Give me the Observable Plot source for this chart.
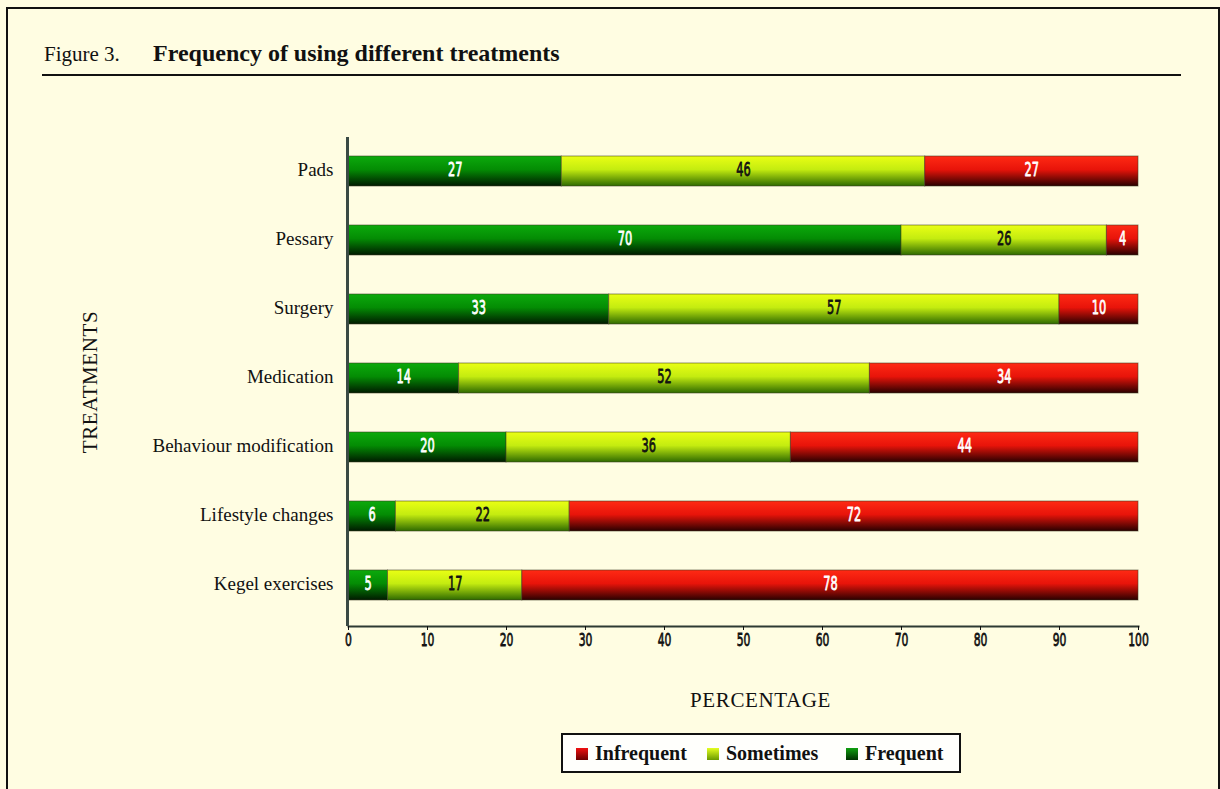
<!DOCTYPE html>
<html>
<head>
<meta charset="utf-8">
<script src="https://cdn.jsdelivr.net/npm/d3@7"></script>
<script src="https://cdn.jsdelivr.net/npm/@observablehq/plot@0.6"></script>
<style>
  html, body { margin: 0; padding: 0; background: #fffde2; }
  #page { position: relative; width: 1220px; height: 789px; overflow: hidden; background: #fffde2; }
  #border { position: absolute; left: 6px; top: 7px; width: 1210px; height: 800px; border: 2px solid #111; }
  #title { position: absolute; left: 44px; top: 40px; font-family: "Liberation Serif", "Times New Roman", serif; font-size: 24px; color: #111; white-space: nowrap; }
  #title .fig { font-size: 21px; display: inline-block; width: 109px; }
  #title b { font-weight: bold; }
  #rule { position: absolute; left: 42px; top: 74px; width: 1139px; height: 2px; background: #111; }
  #chart { position: absolute; left: 0; top: 0; }
  #legend { position: absolute; left: 561px; top: 733px; width: 396px; height: 36px; border: 2px solid #111; background: #fffffc;
            font-family: "Liberation Serif", "Times New Roman", serif; font-weight: bold; font-size: 20px; color: #111; }
  #legend .item { position: absolute; top: 7px; white-space: nowrap; }
  #legend .sw { display: inline-block; width: 12px; height: 12px; margin-right: 7px; vertical-align: 0px; }
</style>
</head>
<body>
<div id="page">
  <div id="border"></div>
  <div id="title"><span class="fig">Figure 3.</span><b>Frequency of using different treatments</b></div>
  <div id="rule"></div>
  <div id="chart"></div>
  <div id="legend"></div>
</div>
<script>
// ---- data ----
const treatments = ["Pads", "Pessary", "Surgery", "Medication", "Behaviour modification", "Lifestyle changes", "Kegel exercises"];
const seriesNames = ["Frequent", "Sometimes", "Infrequent"];
const frequent   = [27, 70, 33, 14, 20, 6, 5];
const sometimes  = [46, 26, 57, 52, 36, 22, 17];
const infrequent = [27, 4, 10, 34, 44, 72, 78];
const xTicks = [0, 10, 20, 30, 40, 50, 60, 70, 80, 90, 100];
const legendOrder = ["Infrequent", "Sometimes", "Frequent"];

// ---- build table ----
const seriesValues = {Frequent: frequent, Sometimes: sometimes, Infrequent: infrequent};
const rows = [];
treatments.forEach((t, i) => {
  let acc = 0;
  seriesNames.forEach(s => {
    const v = seriesValues[s][i];
    rows.push({treatment: t, series: s, value: v, x1: acc, x2: acc + v, mid: acc + v / 2});
    acc += v;
  });
});

const gradId = {Frequent: "gFreq", Sometimes: "gSome", Infrequent: "gInf"};
const textColor = {Frequent: "#ffffff", Sometimes: "#111111", Infrequent: "#ffffff"};
const numFont = "'DejaVu Sans', sans-serif";

const W = 1220, H = 789;
const chart = Plot.plot({
  width: W,
  height: H,
  marginLeft: 348,
  marginRight: 82,
  marginTop: 137,
  marginBottom: 163,
  style: {background: "transparent", overflow: "visible"},
  x: {domain: [0, 100]},
  y: {domain: treatments, type: "band", paddingInner: 0.565, paddingOuter: 0.2825, insetBottom: 6},
  marks: [
    Plot.barX(rows, {
      x1: "x1", x2: "x2", y: "treatment",
      fill: d => `url(#${gradId[d.series]})`,
      stroke: "#3d3d22", strokeOpacity: 0.55, strokeWidth: 1
    }),
    Plot.text(rows, {
      x: "mid", y: "treatment", text: d => String(d.value),
      fill: d => textColor[d.series],
      stroke: d => textColor[d.series], strokeWidth: 0.8,
      fontFamily: numFont, fontSize: 19, dy: -2
    }),
    Plot.frame({anchor: "bottom", stroke: "#2e3a33", strokeWidth: 2}),
    Plot.ruleX([0], {stroke: "#3a4a44", strokeWidth: 3, dx: -1}),
    Plot.axisX({
      ticks: xTicks, tickFormat: d => String(d), tickSize: 4, tickPadding: 3,
      fontFamily: numFont, fontSize: 18, color: "#111",
      label: "PERCENTAGE", labelAnchor: "center", labelArrow: "none", labelOffset: 80
    }),
    Plot.axisY({
      tickSize: 0, tickPadding: 15, dy: -2,
      fontFamily: "'Liberation Serif', 'Times New Roman', serif", fontSize: 19, color: "#111",
      label: "TREATMENTS", labelAnchor: "center", labelArrow: "none", labelOffset: 266
    })
  ]
});

// gradients
const svg = d3.select(chart);
const defs = svg.insert("defs", ":first-child");
const grads = {
  gFreq: [["0%", "#0caa0c"], ["45%", "#048c04"], ["100%", "#001a00"]],
  gSome: [["0%", "#eaff14"], ["45%", "#c4ec10"], ["100%", "#2e6a00"]],
  gInf:  [["0%", "#ff2a14"], ["45%", "#e8140a"], ["100%", "#2a0000"]]
};
Object.entries(grads).forEach(([id, stops]) => {
  const g = defs.append("linearGradient").attr("id", id).attr("x1", 0).attr("y1", 0).attr("x2", 0).attr("y2", 1);
  stops.forEach(([o, c]) => g.append("stop").attr("offset", o).attr("stop-color", c));
});
// axis label fonts
const axisLabels = svg.selectAll("[aria-label='x-axis label'], [aria-label='y-axis label']");
axisLabels.attr("font-weight", "normal");
axisLabels.selectAll("text")
  .attr("font-family", "'Liberation Serif', 'Times New Roman', serif")
  .attr("font-weight", "normal")
  .attr("font-size", 21)
  .attr("letter-spacing", "0.6px");
svg.selectAll("[aria-label='x-axis label'] text").attr("dx", 17);

// tick labels: slightly heavier strokes
svg.selectAll("g[aria-label='x-axis tick label'] text").attr("stroke", "#111").attr("stroke-width", 0.8);

// condensed look for numeric texts (horizontal squeeze around each text's anchor)
svg.selectAll("g[aria-label='text'] text, g[aria-label='x-axis tick label'] text").each(function () {
  const el = d3.select(this);
  const t = el.attr("transform") || "";
  el.attr("transform", `${t} scale(0.6,1)`);
});

document.getElementById("chart").appendChild(chart);

// legend
const legendColors = {Infrequent: "linear-gradient(#f01010, #6a0000)", Sometimes: "linear-gradient(#e4ff20, #6a9a00)", Frequent: "linear-gradient(#10a010, #003000)"};
const legendLeft = {Infrequent: 13, Sometimes: 144, Frequent: 283};
const legend = document.getElementById("legend");
legendOrder.forEach(s => {
  const it = document.createElement("div");
  it.className = "item";
  it.style.left = legendLeft[s] + "px";
  const sw = document.createElement("span");
  sw.className = "sw";
  sw.style.background = legendColors[s];
  it.appendChild(sw);
  it.appendChild(document.createTextNode(s));
  legend.appendChild(it);
});
</script>
</body>
</html>
